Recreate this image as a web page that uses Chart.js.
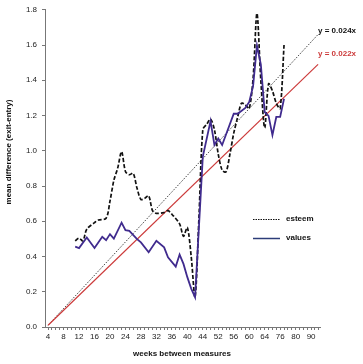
<!DOCTYPE html>
<html>
<head>
<meta charset="utf-8">
<title>mean difference by weeks between measures</title>
<script src="https://cdn.jsdelivr.net/npm/chart.js@4/dist/chart.umd.min.js"></script>
<style>
  html, body { margin: 0; padding: 0; background: #fff; }
  #wrap { width: 363px; height: 364px; }
</style>
</head>
<body>
<div id="wrap"><canvas id="chart" width="363" height="364"></canvas></div>
<script>
'use strict';

/* ── Data ──────────────────────────────────────────────────────────────── */
// x-axis: one slot per measured week, labelled every 4th slot
const weekLabels = ['4', '8', '12', '16', '20', '24', '28', '32', '36', '40',
                    '44', '52', '56', '60', '64', '76', '80', '90'];

const valuesIdx  = [7, 8, 10, 12, 14, 15, 16, 17, 19, 20, 21, 23, 24, 26, 28, 30, 31, 33, 34, 35,
                    36, 37, 38, 40, 42, 43, 44, 45, 48, 49, 51, 52, 53, 54, 55, 56, 57, 58, 59, 60, 61];
const valuesMean = [0.456, 0.448, 0.508, 0.448, 0.512, 0.493, 0.527, 0.502, 0.592, 0.549,
                    0.546, 0.499, 0.480, 0.424, 0.489, 0.452, 0.395, 0.343, 0.411, 0.358,
                    0.283, 0.218, 0.169, 0.967, 1.168, 1.033, 1.070, 1.033, 1.210, 1.210,
                    1.243, 1.277, 1.367, 1.597, 1.490, 1.220, 1.198, 1.089, 1.192, 1.192, 1.295];

const esteemIdx  = [7, 8, 9, 10, 12, 13, 15, 16, 17, 18, 19, 20, 21, 22, 23, 24, 25, 26, 27, 28,
                    30, 31, 32, 34, 35, 36, 37, 38, 39, 40, 41, 42, 43, 44, 45, 46, 47, 48, 49, 50,
                    51, 52, 53, 54, 55, 56, 57, 58, 59, 60, 61];
const esteemMean = [0.489, 0.504, 0.489, 0.555, 0.592, 0.607, 0.617, 0.714, 0.832, 0.902,
                    0.995, 0.883, 0.864, 0.872, 0.787, 0.724, 0.730, 0.745, 0.660, 0.645,
                    0.650, 0.660, 0.640, 0.585, 0.515, 0.565, 0.400, 0.170, 0.620, 1.120,
                    1.150, 1.180, 1.120, 0.980, 0.890, 0.880, 0.980, 1.100, 1.190, 1.270,
                    1.260, 1.240, 1.410, 1.780, 1.400, 1.130, 1.380, 1.340, 1.270, 1.240, 1.600];

// fitted lines through the origin, end points as drawn
const trendIdx        = [0, 69.8];
const esteemTrendMean = [0.01, 1.66];
const valuesTrendMean = [0.01, 1.49];

const yTicks = [0, 0.2, 0.4, 0.6, 0.8, 1.0, 1.2, 1.4, 1.6, 1.8];

/* ── Helpers ───────────────────────────────────────────────────────────── */
const toPoints = (xs, ys) => xs.map((x, i) => ({ x, y: ys[i] }));

const FONT = '"Liberation Sans", Arial, sans-serif';
const RED  = '#cc3b3b';
const BLUE = '#402b8e';

/* ── Overlay: axis titles, legend, fit labels ──────────────────────────── */
const overlay = {
  id: 'overlay',
  afterDraw(chart) {
    const ctx = chart.ctx;
    ctx.save();

    // axis titles
    ctx.fillStyle = '#111';
    ctx.font = 'bold 8px ' + FONT;
    ctx.textAlign = 'center';
    ctx.textBaseline = 'middle';
    ctx.fillText('weeks between measures', 182, 354);
    ctx.translate(9, 152);
    ctx.rotate(-Math.PI / 2);
    ctx.fillText('mean difference (exit-entry)', 0, 0);
    ctx.setTransform(1, 0, 0, 1, 0, 0);

    // legend
    ctx.lineWidth = 1.2;
    ctx.strokeStyle = '#111';
    ctx.setLineDash([1.5, 1]);
    ctx.beginPath(); ctx.moveTo(253, 219.5); ctx.lineTo(280, 219.5); ctx.stroke();
    ctx.setLineDash([]);
    ctx.strokeStyle = '#2c3d78';
    ctx.lineWidth = 1.5;
    ctx.beginPath(); ctx.moveTo(253, 238.5); ctx.lineTo(280, 238.5); ctx.stroke();

    ctx.font = 'bold 8px ' + FONT;
    ctx.textAlign = 'left';
    ctx.fillStyle = '#111';
    ctx.fillText('esteem', 286, 219);
    ctx.fillText('values', 286, 238);

    // fit labels
    ctx.fillText('y = 0.024x', 318, 31);
    ctx.fillStyle = RED;
    ctx.fillText('y = 0.022x', 318, 54);

    ctx.restore();
  }
};

/* ── Chart ─────────────────────────────────────────────────────────────── */
new Chart(document.getElementById('chart'), {
  type: 'line',
  data: {
    datasets: [
      {
        label: 'values',
        data: toPoints(valuesIdx, valuesMean),
        borderColor: BLUE,
        borderWidth: 1.8,
        pointRadius: 0,
        tension: 0
      },
      {
        label: 'esteem',
        data: toPoints(esteemIdx, esteemMean),
        borderColor: '#111',
        borderWidth: 1.7,
        borderDash: [4, 2],
        pointRadius: 0,
        tension: 0.3
      },
      {
        label: 'y = 0.022x',
        data: toPoints(trendIdx, valuesTrendMean),
        borderColor: RED,
        borderWidth: 1.2,
        pointRadius: 0
      },
      {
        label: 'y = 0.024x',
        data: toPoints(trendIdx, esteemTrendMean),
        borderColor: '#111',
        borderWidth: 1,
        borderDash: [1, 1.5],
        pointRadius: 0
      }
    ]
  },
  options: {
    responsive: false,
    devicePixelRatio: 1,
    animation: false,
    layout: { padding: { top: 7, right: 43, left: 0, bottom: 0 } },
    plugins: { legend: { display: false }, tooltip: { enabled: false } },
    scales: {
      x: {
        type: 'linear',
        min: -0.8,
        max: 70.3,
        afterBuildTicks: s => { s.ticks = Array.from({ length: 71 }, (_, i) => ({ value: i })); },
        afterFit: s => { s.height = 37; },
        ticks: {
          autoSkip: false,
          maxRotation: 0,
          padding: 2,
          color: '#222',
          font: { family: FONT, size: 8 },
          callback: v => (v % 4 === 0 ? (weekLabels[v / 4] || '') : '')
        },
        grid: { drawOnChartArea: false, tickLength: 3, color: '#777' },
        border: { color: '#777' }
      },
      y: {
        min: 0,
        max: 1.8,
        afterBuildTicks: s => { s.ticks = yTicks.map(v => ({ value: v })); },
        afterFit: s => { s.width = 45; },
        ticks: {
          padding: 5,
          color: '#222',
          font: { family: FONT, size: 8 },
          callback: v => v.toFixed(1)
        },
        grid: { drawOnChartArea: false, tickLength: 3, color: '#777' },
        border: { color: '#777' }
      }
    }
  },
  plugins: [overlay]
});
</script>
</body>
</html>
